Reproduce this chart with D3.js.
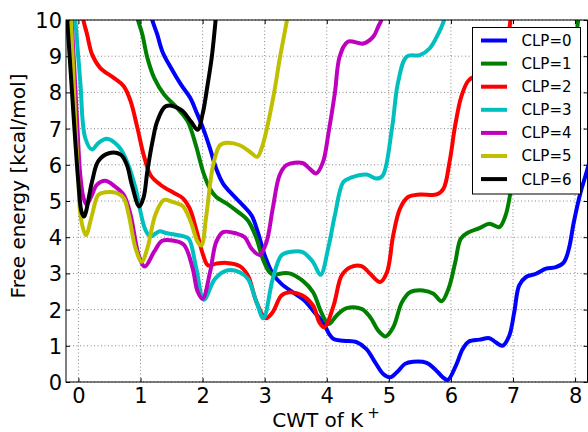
<!DOCTYPE html>
<html>
<head>
<meta charset="utf-8">
<script src="https://cdn.jsdelivr.net/npm/d3@7"></script>
<style>
  html, body { margin: 0; padding: 0; background: #fff; }
  svg { display: block; }
  text { font-family: "DejaVu Sans", sans-serif; fill: #000; }
</style>
</head>
<body>
<svg id="chart" width="588" height="432"></svg>
<script>
// ---- data ----
const seriesNames = ["CLP=0", "CLP=1", "CLP=2", "CLP=3", "CLP=4", "CLP=5", "CLP=6"];
const seriesColors = ["#0000ff", "#008000", "#ff0000", "#00bfbf", "#bf00bf", "#bfbf00", "#000000"];
const xTicks = [0, 1, 2, 3, 4, 5, 6, 7, 8];
const yTicks = [0, 1, 2, 3, 4, 5, 6, 7, 8, 9, 10];

const clp0 = [[1.17,10.2],[1.19,10],[1.27,9.6],[1.35,9.14],[1.49,8.68],[1.65,8.22],[1.8,7.85],[1.9,7.46],[2.01,7.0],[2.12,6.45],[2.22,5.89],[2.33,5.48],[2.49,5.16],[2.65,4.88],[2.79,4.6],[2.89,4.14],[3.0,3.5],[3.13,2.99],[3.27,2.71],[3.45,2.48],[3.64,2.25],[3.8,1.93],[3.94,1.65],[4.04,1.32],[4.11,1.19],[4.27,1.14],[4.48,1.1],[4.64,0.91],[4.78,0.54],[4.91,0.22],[5.02,0.13],[5.13,0.27],[5.26,0.5],[5.39,0.56],[5.61,0.53],[5.74,0.36],[5.87,0.13],[5.95,0.06],[6.08,0.45],[6.19,0.91],[6.29,1.12],[6.46,1.17],[6.62,1.21],[6.72,1.1],[6.83,1.0],[6.94,1.28],[7.02,1.93],[7.1,2.67],[7.21,2.9],[7.37,2.99],[7.53,3.13],[7.69,3.17],[7.82,3.31],[7.9,3.68],[7.98,4.42],[8.09,5.25],[8.17,5.71],[8.25,6.2]];
const clp1 = [[0.94,10.2],[0.96,10],[1.03,9.6],[1.11,8.96],[1.22,8.4],[1.38,7.94],[1.59,7.57],[1.76,7.2],[1.89,6.55],[2.01,5.8],[2.12,5.34],[2.22,5.11],[2.39,4.93],[2.57,4.7],[2.73,4.46],[2.87,3.96],[2.97,3.4],[3.08,3.03],[3.15,2.96],[3.27,3.0],[3.4,3.0],[3.61,2.8],[3.78,2.48],[3.91,1.93],[4.03,1.6],[4.16,1.84],[4.32,2.04],[4.56,2.02],[4.7,1.79],[4.83,1.42],[4.95,1.26],[5.07,1.51],[5.21,2.2],[5.34,2.48],[5.55,2.53],[5.72,2.44],[5.85,2.23],[5.96,2.57],[6.07,3.31],[6.16,3.96],[6.29,4.14],[6.46,4.25],[6.62,4.37],[6.78,4.28],[6.88,4.6],[6.97,5.34],[7.05,6.1],[7.15,6.6],[7.3,6.8],[7.5,6.9],[7.7,6.8],[7.85,7.0],[7.95,8.4],[8.05,10],[8.07,10.2]];
const clp2 = [[0.07,10.2],[0.08,10],[0.14,9.6],[0.22,9.05],[0.35,8.68],[0.57,8.4],[0.73,8.17],[0.84,7.76],[0.95,7.02],[1.05,6.28],[1.16,5.72],[1.32,5.45],[1.54,5.22],[1.68,5.08],[1.79,4.8],[1.9,4.2],[2.01,3.5],[2.09,3.22],[2.22,3.27],[2.39,3.29],[2.6,3.2],[2.73,2.94],[2.87,2.2],[3.02,1.76],[3.13,1.93],[3.27,2.39],[3.4,2.48],[3.61,2.39],[3.78,2.11],[3.88,1.65],[3.96,1.51],[4.11,2.11],[4.24,2.94],[4.38,3.17],[4.56,3.2],[4.7,2.99],[4.86,2.76],[4.97,3.03],[5.07,4.05],[5.18,4.79],[5.31,5.11],[5.5,5.18],[5.77,5.18],[5.88,5.34],[5.98,6.1],[6.07,7.1],[6.17,7.9],[6.29,8.34],[6.45,8.45],[6.65,8.4],[6.8,8.3],[6.9,9.2],[6.96,10],[6.98,10.2]];
const clp3 = [[-0.06,10.2],[-0.05,10],[0.03,8.3],[0.11,6.74],[0.22,6.42],[0.32,6.6],[0.46,6.72],[0.65,6.5],[0.78,6.1],[0.92,5.36],[1.0,4.7],[1.08,4.2],[1.16,4.02],[1.3,4.16],[1.43,4.11],[1.7,4.02],[1.78,3.95],[1.9,3.13],[2.02,2.27],[2.2,2.85],[2.39,3.08],[2.6,3.03],[2.73,2.85],[2.87,2.2],[2.98,1.76],[3.13,2.85],[3.27,3.5],[3.4,3.59],[3.61,3.59],[3.78,3.31],[3.9,2.96],[4.03,3.75],[4.13,4.6],[4.27,5.53],[4.4,5.65],[4.64,5.73],[4.8,5.62],[4.9,5.7],[5.05,7.0],[5.15,8.29],[5.29,8.99],[5.5,9.03],[5.66,9.22],[5.8,9.63],[5.89,10],[5.91,10.2]];
const clp4 = [[-0.12,10.2],[-0.11,10],[-0.03,7.5],[0.03,5.72],[0.08,5.1],[0.13,4.9],[0.2,5.1],[0.3,5.45],[0.43,5.56],[0.59,5.4],[0.73,5.17],[0.84,4.62],[0.97,3.51],[1.07,3.19],[1.22,3.6],[1.35,3.9],[1.54,3.9],[1.7,3.79],[1.84,3.14],[1.92,2.5],[2.0,2.3],[2.12,3.03],[2.22,3.87],[2.33,4.14],[2.55,4.1],[2.68,4.0],[2.79,3.68],[2.92,3.51],[3.03,3.87],[3.13,4.79],[3.24,5.71],[3.35,5.99],[3.61,6.05],[3.72,5.9],[3.83,5.76],[3.94,6.08],[4.03,6.9],[4.13,7.97],[4.21,9.0],[4.34,9.4],[4.59,9.35],[4.75,9.54],[4.83,9.82],[4.88,10],[4.9,10.2]];
const clp5 = [[-0.13,10.2],[-0.12,10],[-0.05,7.2],[0.0,5.5],[0.04,4.52],[0.12,4.06],[0.22,4.62],[0.32,5.17],[0.43,5.24],[0.62,5.22],[0.73,5.08],[0.81,4.62],[0.92,3.69],[1.02,3.32],[1.11,3.69],[1.24,4.62],[1.38,5.03],[1.54,4.96],[1.68,4.86],[1.81,4.42],[1.92,3.87],[1.98,3.77],[2.06,4.6],[2.17,5.99],[2.28,6.54],[2.39,6.61],[2.6,6.54],[2.76,6.36],[2.88,6.22],[2.95,6.45],[3.03,6.96],[3.15,7.97],[3.25,9.0],[3.36,10],[3.38,10.2]];
const clp6 = [[-0.19,10.2],[-0.18,10],[-0.08,7.4],[0.0,5.5],[0.05,4.7],[0.09,4.57],[0.22,5.54],[0.32,6.1],[0.49,6.32],[0.68,6.28],[0.78,6.0],[0.86,5.45],[0.98,4.85],[1.05,5.1],[1.11,5.82],[1.2,6.7],[1.27,7.2],[1.41,7.62],[1.65,7.52],[1.81,7.2],[1.92,6.97],[2.0,7.4],[2.08,8.2],[2.15,9.0],[2.21,10],[2.22,10.2]];
const seriesData = [clp0, clp1, clp2, clp3, clp4, clp5, clp6];

// ---- layout ----
const svg = d3.select("#chart");
const plot = { left: 66, right: 587.5, top: 20, bottom: 382 };
const x = d3.scaleLinear().domain([-0.2, 8.2]).range([plot.left, plot.right]);
const y = d3.scaleLinear().domain([0, 10]).range([plot.bottom, plot.top]);

svg.append("defs").append("clipPath").attr("id", "clip")
  .append("rect").attr("x", plot.left).attr("y", plot.top)
  .attr("width", plot.right - plot.left).attr("height", plot.bottom - plot.top);

// grid
const grid = svg.append("g");
grid.selectAll("line.gx").data(xTicks).enter().append("line")
  .attr("x1", d => x(d)).attr("x2", d => x(d))
  .attr("y1", plot.top).attr("y2", plot.bottom)
  .attr("stroke", "#555").attr("stroke-width", 0.7).attr("stroke-dasharray", "1,2.5");
grid.selectAll("line.gy").data(yTicks).enter().append("line")
  .attr("y1", d => y(d)).attr("y2", d => y(d))
  .attr("x1", plot.left).attr("x2", plot.right)
  .attr("stroke", "#555").attr("stroke-width", 0.7).attr("stroke-dasharray", "1,2.5");

// lines
const line = d3.line().x(d => x(d[0])).y(d => y(d[1])).curve(d3.curveCatmullRom.alpha(0.5));
const lines = svg.append("g").attr("clip-path", "url(#clip)");
seriesData.forEach((s, i) => {
  lines.append("path").attr("d", line(s)).attr("fill", "none")
    .attr("stroke", seriesColors[i]).attr("stroke-width", 4)
    .attr("stroke-linejoin", "round").attr("stroke-linecap", "round");
});

// axes (ticks inside, all four sides)
const tl = 4;
const axB = d3.axisBottom(x).tickValues(xTicks).tickSizeInner(-tl).tickSizeOuter(0).tickPadding(8);
const axT = d3.axisTop(x).tickValues(xTicks).tickSizeInner(-tl).tickSizeOuter(0).tickFormat("");
const axL = d3.axisLeft(y).tickValues(yTicks).tickSizeInner(-tl).tickSizeOuter(0).tickPadding(8);
const axR = d3.axisRight(y).tickValues(yTicks).tickSizeInner(-tl).tickSizeOuter(0).tickFormat("");
const gB = svg.append("g").attr("transform", `translate(0,${plot.bottom})`).call(axB);
const gT = svg.append("g").attr("transform", `translate(0,${plot.top})`).call(axT);
const gL = svg.append("g").attr("transform", `translate(${plot.left},0)`).call(axL);
const gR = svg.append("g").attr("transform", `translate(${plot.right},0)`).call(axR);
[gB, gT, gL, gR].forEach(g => {
  g.select(".domain").remove();
  g.selectAll(".tick line").attr("stroke", "#000").attr("stroke-width", 1);
});
gB.selectAll(".tick text").attr("font-size", 21).attr("font-family", "DejaVu Sans").attr("dy", "0.71em").attr("y", 6);
gL.selectAll(".tick text").attr("font-size", 21).attr("font-family", "DejaVu Sans").attr("x", -4).attr("dy", "0.36em");

// frame
svg.append("rect").attr("x", plot.left).attr("y", plot.top)
  .attr("width", plot.right - plot.left).attr("height", plot.bottom - plot.top)
  .attr("fill", "none").attr("stroke", "#000").attr("stroke-width", 1);

// axis labels
svg.append("text").attr("x", 326).attr("y", 427).attr("text-anchor", "middle")
  .attr("font-size", 20)
  .html('CWT of K<tspan dx="4" dy="-9" font-size="15">+</tspan>');
svg.append("text").attr("transform", "translate(25,186) rotate(-90)")
  .attr("text-anchor", "middle").attr("font-size", 20)
  .text("Free energy [kcal/mol]");

// legend
const lg = svg.append("g");
lg.append("rect").attr("x", 472.5).attr("y", 27.5).attr("width", 108).attr("height", 166.5)
  .attr("fill", "#fff").attr("stroke", "#000").attr("stroke-width", 1);
seriesNames.forEach((n, i) => {
  const yy = 40.5 + i * 23.1;
  lg.append("line").attr("x1", 481).attr("x2", 507).attr("y1", yy).attr("y2", yy)
    .attr("stroke", seriesColors[i]).attr("stroke-width", 4);
  lg.append("text").attr("x", 521.5).attr("y", yy).attr("dy", "0.36em")
    .attr("font-size", 15).text(n);
});
</script>
</body>
</html>
